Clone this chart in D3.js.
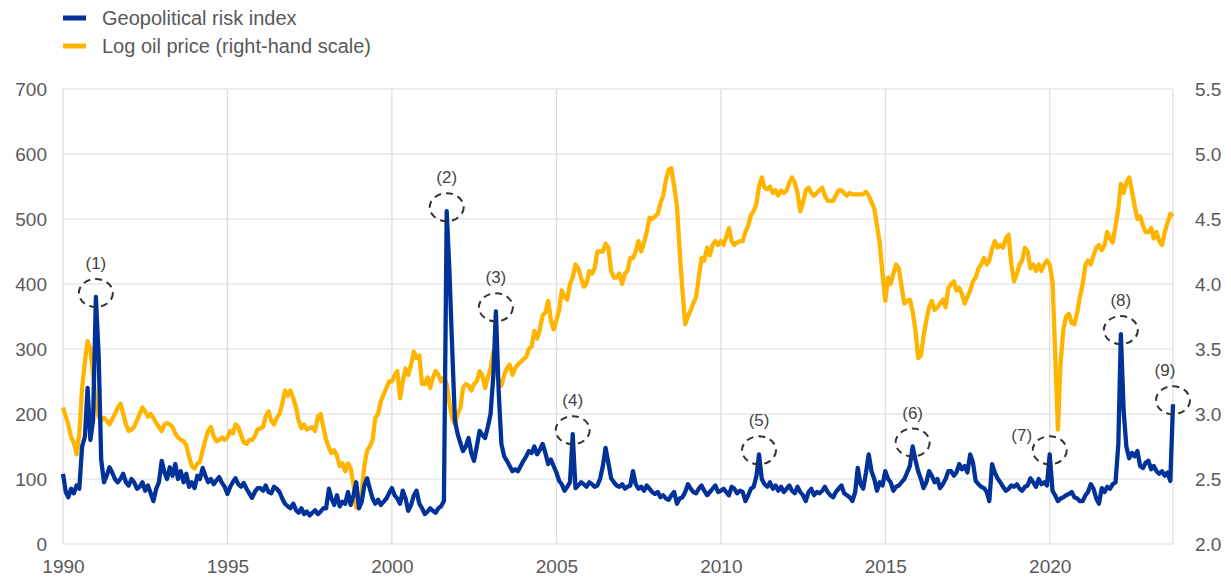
<!DOCTYPE html>
<html><head><meta charset="utf-8">
<script src="https://cdn.jsdelivr.net/npm/d3@7"></script>
<style>
body{margin:0;background:#fff;}
svg{display:block;font-family:"Liberation Sans",Arial,sans-serif;}
</style></head><body>
<svg id="chart" width="1231" height="580"></svg>
<script>
// ---- data (monthly, Jan 1990 – Oct 2023) ----
const startMonth = "1990-01";

const gprIndex = [
/*1990*/108,80,72,85,78,90,85,150,165,240,160,190,
/*1991*/380,290,130,95,105,118,110,100,95,100,108,95,
/*1992*/90,100,95,85,88,95,82,90,78,66,85,95,
/*1993*/128,110,100,118,105,123,100,112,95,108,88,95,
/*1994*/86,105,100,117,105,95,100,92,98,103,94,88,
/*1995*/77,88,95,101,92,88,94,85,78,71,80,86,
/*1996*/86,82,90,80,78,88,85,80,70,62,58,55,
/*1997*/62,52,48,55,46,50,44,48,52,46,50,55,
/*1998*/55,85,70,60,75,58,65,62,80,60,75,95,
/*1999*/55,65,90,101,85,70,62,68,60,65,70,78,
/*2000*/86,75,70,62,82,70,51,60,75,82,62,55,
/*2001*/46,50,55,51,48,55,58,66,512,420,300,190,
/*2002*/169,155,143,150,163,140,128,150,174,168,163,180,
/*2003*/200,260,358,235,154,135,128,120,112,115,112,120,
/*2004*/128,135,143,140,150,138,145,154,140,123,130,120,
/*2005*/110,97,92,82,88,95,169,86,90,95,92,88,
/*2006*/95,92,88,90,100,120,148,125,101,95,90,88,
/*2007*/92,85,88,90,112,92,85,88,82,90,85,80,
/*2008*/77,80,72,75,70,68,75,80,62,70,72,80,
/*2009*/92,85,80,78,85,90,82,75,80,85,90,80,
/*2010*/82,85,80,75,88,85,78,82,80,66,75,85,
/*2011*/88,105,138,100,92,88,95,85,90,82,88,80,
/*2012*/85,90,82,78,88,80,75,66,80,85,75,80,
/*2013*/78,82,88,80,75,72,80,85,90,78,75,72,
/*2014*/66,80,117,92,85,110,138,112,100,82,95,90,
/*2015*/112,100,95,82,88,90,95,100,110,120,150,130,
/*2016*/112,100,86,95,112,105,95,100,86,92,100,112,
/*2017*/112,105,110,123,115,120,110,138,125,97,92,88,
/*2018*/86,80,66,123,110,101,95,88,82,85,90,88,
/*2019*/92,85,82,88,90,101,95,88,100,92,95,90,
/*2020*/138,82,75,66,70,72,75,77,80,72,70,66,
/*2021*/66,75,80,92,85,70,62,86,80,88,85,92,
/*2022*/95,154,323,205,150,132,140,135,143,120,117,125,
/*2023*/128,115,120,112,108,112,105,110,97,215
];

const logOilPrice = [
/*1990*/3.05,2.98,2.92,2.82,2.78,2.69,2.85,3.20,3.40,3.56,3.50,3.30,
/*1991*/3.08,2.98,2.95,2.97,2.95,2.92,2.96,3.00,3.05,3.08,3.00,2.92,
/*1992*/2.87,2.88,2.90,2.95,3.00,3.05,3.02,2.98,3.00,2.97,2.93,2.90,
/*1993*/2.87,2.92,2.93,2.92,2.90,2.85,2.82,2.80,2.79,2.76,2.67,2.60,
/*1994*/2.58,2.62,2.63,2.72,2.80,2.87,2.90,2.83,2.79,2.80,2.82,2.80,
/*1995*/2.82,2.87,2.85,2.92,2.90,2.84,2.78,2.77,2.80,2.80,2.83,2.88,
/*1996*/2.89,2.90,2.98,3.02,2.95,2.92,2.97,3.00,3.08,3.18,3.14,3.18,
/*1997*/3.12,3.05,2.95,2.89,2.92,2.88,2.89,2.90,2.87,2.98,3.00,2.90,
/*1998*/2.80,2.74,2.70,2.72,2.68,2.60,2.62,2.56,2.62,2.58,2.46,2.28,
/*1999*/2.31,2.40,2.60,2.72,2.75,2.80,2.97,3.00,3.10,3.15,3.20,3.25,
/*2000*/3.25,3.30,3.33,3.12,3.25,3.35,3.30,3.38,3.48,3.43,3.45,3.23,
/*2001*/3.23,3.28,3.20,3.28,3.33,3.30,3.25,3.28,3.23,3.08,2.97,2.92,
/*2002*/3.00,3.05,3.20,3.23,3.22,3.18,3.23,3.25,3.33,3.30,3.20,3.28,
/*2003*/3.35,3.48,3.35,3.25,3.22,3.30,3.35,3.38,3.30,3.35,3.38,3.40,
/*2004*/3.42,3.44,3.50,3.52,3.64,3.58,3.65,3.76,3.78,3.87,3.72,3.65,
/*2005*/3.72,3.80,3.95,3.90,3.88,4.00,4.05,4.15,4.12,4.05,3.98,4.00,
/*2006*/4.10,4.08,4.12,4.25,4.25,4.25,4.31,4.28,4.10,4.05,4.05,4.08,
/*2007*/4.00,4.08,4.10,4.20,4.20,4.25,4.33,4.25,4.32,4.40,4.51,4.50,
/*2008*/4.52,4.54,4.62,4.68,4.80,4.88,4.89,4.75,4.60,4.25,3.95,3.69,
/*2009*/3.75,3.80,3.85,3.90,4.05,4.20,4.18,4.28,4.22,4.30,4.33,4.30,
/*2010*/4.33,4.30,4.36,4.43,4.33,4.30,4.32,4.33,4.33,4.40,4.45,4.53,
/*2011*/4.56,4.62,4.75,4.82,4.74,4.73,4.75,4.70,4.72,4.68,4.72,4.70,
/*2012*/4.72,4.78,4.82,4.78,4.70,4.56,4.62,4.72,4.74,4.70,4.68,4.70,
/*2013*/4.72,4.74,4.68,4.64,4.64,4.64,4.68,4.72,4.72,4.70,4.68,4.70,
/*2014*/4.69,4.69,4.69,4.69,4.69,4.71,4.68,4.63,4.58,4.45,4.31,4.08,
/*2015*/3.87,4.05,4.00,4.08,4.15,4.12,3.98,3.85,3.87,3.88,3.79,3.65,
/*2016*/3.43,3.45,3.60,3.72,3.82,3.87,3.80,3.82,3.85,3.88,3.82,3.97,
/*2017*/4.00,4.02,3.95,3.97,3.92,3.85,3.90,3.95,4.02,4.05,4.12,4.15,
/*2018*/4.20,4.15,4.18,4.27,4.33,4.28,4.30,4.28,4.35,4.38,4.15,4.02,
/*2019*/4.08,4.15,4.18,4.28,4.25,4.12,4.15,4.10,4.15,4.10,4.15,4.18,
/*2020*/4.15,4.02,3.48,2.88,3.40,3.65,3.75,3.77,3.70,3.69,3.78,3.90,
/*2021*/4.00,4.15,4.18,4.15,4.22,4.28,4.30,4.26,4.30,4.40,4.35,4.32,
/*2022*/4.45,4.58,4.77,4.70,4.78,4.82,4.72,4.60,4.50,4.52,4.45,4.40,
/*2023*/4.40,4.43,4.35,4.40,4.33,4.30,4.40,4.47,4.54,4.52
];

const xTickYears = [1990,1995,2000,2005,2010,2015,2020];
const leftTicks = [0,100,200,300,400,500,600,700];
const rightTicks = [2.0,2.5,3.0,3.5,4.0,4.5,5.0,5.5];
const seriesNames = ["Geopolitical risk index","Log oil price (right-hand scale)"];
const annDates = ["1991-01","2001-09","2003-03","2005-07","2011-03","2015-11","2020-01","2022-03","2023-10"];
const annLabels = ["(1)","(2)","(3)","(4)","(5)","(6)","(7)","(8)","(9)"];

// ---- drawing ----
const BLUE = "#003299", ORANGE = "#FFB400", GRID = "#dcdcdc", TXT = "#595959";
const svg = d3.select("#chart");
const parse = d3.timeParse("%Y-%m");
const t0 = parse(startMonth);
const dates = gprIndex.map((_, i) => d3.timeMonth.offset(t0, i));
const L = 63, R = 1173, T = 89, B = 544;

const x = d3.scaleTime().domain([dates[0], dates[dates.length - 1]]).range([L, R]);
const yL = d3.scaleLinear().domain([0, 700]).range([B, T]);
const yR = d3.scaleLinear().domain([2, 5.5]).range([B, T]);

// grid
const g = svg.append("g");
g.selectAll("line.h").data(leftTicks).join("line")
  .attr("x1", L).attr("x2", R).attr("y1", d => yL(d)).attr("y2", d => yL(d))
  .attr("stroke", GRID).attr("stroke-width", 1.2);
const vDates = xTickYears.map(y => new Date(y, 0, 1)).concat([dates[dates.length - 1]]);
g.selectAll("line.v").data(vDates).join("line")
  .attr("x1", d => x(d)).attr("x2", d => x(d)).attr("y1", T).attr("y2", B)
  .attr("stroke", GRID).attr("stroke-width", 1.2);

// axes
function styleAxis(sel) {
  sel.select(".domain").remove();
  sel.selectAll("text").attr("fill", TXT).style("font-size", "19px");
}
svg.append("g").attr("transform", `translate(${L},0)`)
  .call(d3.axisLeft(yL).tickValues(leftTicks).tickSize(0).tickPadding(16))
  .call(styleAxis);
svg.append("g").attr("transform", `translate(${R},0)`)
  .call(d3.axisRight(yR).tickValues(rightTicks).tickFormat(d3.format(".1f")).tickSize(0).tickPadding(22))
  .call(styleAxis);
svg.append("g").attr("transform", `translate(0,${B})`)
  .call(d3.axisBottom(x).tickValues(xTickYears.map(y => new Date(y, 0, 1)))
    .tickFormat(d3.timeFormat("%Y")).tickSize(0).tickPadding(16))
  .call(styleAxis);

// lines
const oilLine = d3.line().x((d, i) => x(dates[i])).y(d => yR(d));
const gprLine = d3.line().x((d, i) => x(dates[i])).y(d => yL(d));
svg.append("path").datum(logOilPrice).attr("d", oilLine)
  .attr("fill", "none").attr("stroke", ORANGE).attr("stroke-width", 4.3)
  .attr("stroke-linejoin", "round");
svg.append("path").datum(gprIndex).attr("d", gprLine)
  .attr("fill", "none").attr("stroke", BLUE).attr("stroke-width", 4.3)
  .attr("stroke-linejoin", "round");

// annotations
const ann = annDates.map((d, i) => {
  const dt = parse(d);
  const idx = d3.timeMonth.count(t0, dt);
  return { cx: x(dt), cy: yL(gprIndex[idx]) - 4, label: annLabels[i] };
});
const ag = svg.append("g");
ag.selectAll("ellipse").data(ann).join("ellipse")
  .attr("cx", d => d.cx).attr("cy", d => d.cy).attr("rx", 17).attr("ry", 14)
  .attr("fill", "none").attr("stroke", "#333").attr("stroke-width", 2)
  .attr("stroke-dasharray", "7,5");
ag.selectAll("text").data(ann).join("text")
  .attr("x", d => d.label === "(7)" ? d.cx - 28 : d.label === "(9)" ? d.cx - 8 : d.cx)
  .attr("y", d => d.label === "(7)" ? d.cy - 9 : d.cy - 24)
  .attr("text-anchor", "middle").attr("fill", "#444").style("font-size", "17px")
  .text(d => d.label);

// legend
const lg = svg.append("g");
[BLUE, ORANGE].forEach((c, i) => {
  const yy = 18 + i * 28;
  lg.append("line").attr("x1", 63).attr("x2", 86).attr("y1", yy).attr("y2", yy)
    .attr("stroke", c).attr("stroke-width", 5);
  lg.append("text").attr("x", 102).attr("y", yy + 7).attr("fill", TXT)
    .style("font-size", "20px").text(seriesNames[i]);
});
</script>
</body></html>
